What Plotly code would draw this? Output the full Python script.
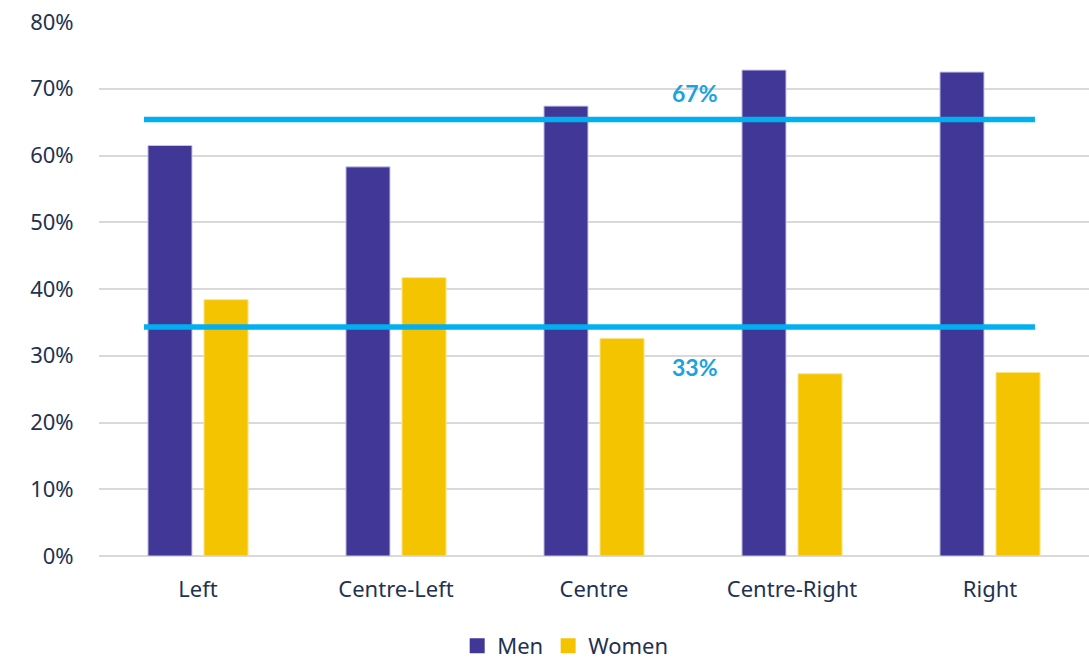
import plotly.graph_objects as go

categories = ["Left", "Centre-Left", "Centre", "Centre-Right", "Right"]
men = [0.615, 0.583, 0.674, 0.728, 0.725]
women = [0.384, 0.417, 0.326, 0.273, 0.275]
y_ticks = [0, 0.1, 0.2, 0.3, 0.4, 0.5, 0.6, 0.7, 0.8]

# reference lines (drawn positions) and their labels
ref_lines = [0.654, 0.343]
ref_labels = ["67%", "33%"]
ref_label_y = [0.694, 0.283]

MEN_C = "#403797"
WOMEN_C = "#F5C400"
LINE_C = "#00B0F0"
TEXT_C = "#1F3251"
FONT = "Noto Sans"

fig = go.Figure()
fig.add_trace(go.Bar(name="Men", x=categories, y=men, marker_color=MEN_C,
                     marker_line=dict(color="#C9C4E6", width=1), showlegend=False))
fig.add_trace(go.Bar(name="Women", x=categories, y=women, marker_color=WOMEN_C,
                     marker_line=dict(color="#FBE38A", width=1), showlegend=False))

# legend entries with larger square swatches
for name, col in [("Men", MEN_C), ("Women", WOMEN_C)]:
    fig.add_trace(go.Scatter(name=name, x=[None], y=[None], mode="markers",
                             marker=dict(symbol="square", size=15, color=col)))

for v in ref_lines:
    fig.add_shape(type="line", xref="x", yref="y", x0=-0.273, x1=4.227, y0=v, y1=v,
                  line=dict(color=LINE_C, width=5.5), layer="above")

for t, yv in zip(ref_labels, ref_label_y):
    fig.add_annotation(x=2.51, y=yv, xref="x", yref="y", text="<b>" + t + "</b>",
                       showarrow=False, font=dict(family="Lato", size=23, color="#1AA3DE"))

fig.update_layout(
    width=1089, height=663,
    margin=dict(l=99, r=0, t=22, b=107),
    plot_bgcolor="white", paper_bgcolor="white",
    barmode="group", bargap=0.434, bargroupgap=0.214,
    font=dict(family=FONT, size=22, color=TEXT_C),
    legend=dict(orientation="h", xref="container", yref="container",
                x=0.519, xanchor="center", y=1 - 646 / 663, yanchor="middle",
                font=dict(size=22, color=TEXT_C), itemwidth=30,
                traceorder="normal"),
    xaxis=dict(showline=False, ticks="outside", ticklen=14, tickcolor="white",
               tickfont=dict(size=22, color=TEXT_C), range=[-0.5, 4.5]),
    yaxis=dict(range=[0, 0.8], tickvals=y_ticks, tickformat=".0%",
               showgrid=True, gridcolor="#D9D9D9", gridwidth=1.5,
               zeroline=True, zerolinecolor="#D9D9D9", zerolinewidth=1.5,
               ticks="outside", ticklen=20, tickcolor="white",
               tickfont=dict(size=22, color=TEXT_C)),
)

fig.write_html("out.html")
